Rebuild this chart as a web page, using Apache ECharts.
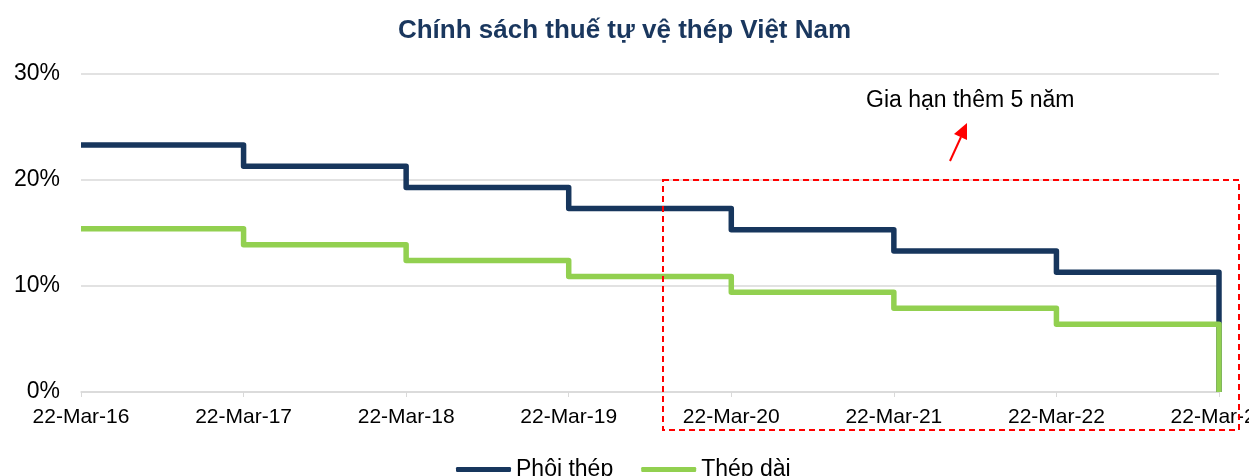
<!DOCTYPE html>
<html>
<head>
<meta charset="utf-8">
<script src="https://cdn.jsdelivr.net/npm/echarts@6/dist/echarts.min.js"></script>
<style>
	html, body { margin: 0; padding: 0; background: #fff; }
	#main { width: 1249px; height: 476px; }
</style>
</head>
<body>
<div id="main"></div>
<script>
	// 年份（22-Mar-yy）
	var years = [2016, 2017, 2018, 2019, 2020, 2021, 2022, 2023];
	// Phôi thép (%)
	var phoiThep = [23.3, 21.3, 19.3, 17.3, 15.3, 13.3, 11.3, 0];
	// Thép dài (%)
	var thepDai = [15.4, 13.9, 12.4, 10.9, 9.4, 7.9, 6.4, 0];
	var yTicks = [0, 10, 20, 30];

	var FONT = '"Liberation Sans", Arial, sans-serif';

	function toPairs(xs, ys) {
		var arr = [];
		for (var i = 0; i < xs.length; i++) {
			arr.push([xs[i], ys[i]]);
		}
		return arr;
	}

	var myChart = echarts.init(document.getElementById('main'));
	var option = {
		animation : false,
		backgroundColor : '#fff',
		title : {
			text : 'Chính sách thuế tự vệ thép Việt Nam',
			left : 'center',
			top : 13,
			textStyle : {
				fontFamily : FONT,
				fontSize : 26,
				fontWeight : 'bold',
				color : '#1A375E'
			}
		},
		legend : {
			top : 453,
			left : 451,
			itemWidth : 55,
			itemHeight : 5,
			itemGap : 28,
			icon : 'roundRect',
			textStyle : {
				fontFamily : FONT,
				fontSize : 23,
				color : '#000',
				padding : [ 0, 0, 0, 0 ]
			},
			data : [ 'Phôi thép', 'Thép dài' ]
		},
		grid : {
			left : 81,
			right : 30,
			top : 74,
			bottom : 84,
			outerBoundsMode : 'none',
			containLabel : false
		},
		xAxis : {
			type : 'value',
			min : years[0],
			max : years[years.length - 1],
			interval : 1,
			splitLine : { show : false },
			axisLine : { lineStyle : { color : '#d9d9d9', width : 1.5 } },
			axisTick : { show : true, length : 5, lineStyle : { color : '#d9d9d9' } },
			axisLabel : {
				fontFamily : FONT,
				fontSize : 21,
				color : '#000',
				margin : 15,
				formatter : function(v) {
					return '22-Mar-' + String(v).slice(2);
				}
			}
		},
		yAxis : {
			type : 'value',
			min : yTicks[0],
			max : yTicks[yTicks.length - 1],
			interval : 10,
			axisLine : { show : false },
			axisTick : { show : false },
			splitLine : { lineStyle : { color : '#d9d9d9', width : 1.5 } },
			axisLabel : {
				fontFamily : FONT,
				fontSize : 23,
				color : '#000',
				margin : 21,
				formatter : '{value}%'
			}
		},
		series : [ {
			name : 'Phôi thép',
			type : 'line',
			step : 'end',
			symbol : 'none',
			color : '#17365D',
			lineStyle : { width : 5.5, color : '#17365D', join : 'round' },
			data : toPairs(years, phoiThep)
		}, {
			name : 'Thép dài',
			type : 'line',
			step : 'end',
			symbol : 'none',
			color : '#92D050',
			lineStyle : { width : 5.5, color : '#92D050', join : 'round' },
			data : toPairs(years, thepDai)
		} ],
		graphic : [ {
			type : 'rect',
			shape : { x : 663, y : 180, width : 576, height : 250 },
			style : { fill : null, stroke : '#FF0000', lineWidth : 2, lineDash : [ 6, 4 ] },
			z : 10
		}, {
			type : 'text',
			left : 866,
			top : 89,
			style : {
				text : 'Gia hạn thêm 5 năm',
				font : '23px ' + FONT,
				fill : '#000'
			}
		}, {
			type : 'line',
			shape : { x1 : 950, y1 : 161, x2 : 961, y2 : 137 },
			style : { stroke : '#FF0000', lineWidth : 2 }
		}, {
			type : 'polygon',
			shape : { points : [ [ 967, 123 ], [ 954, 134 ], [ 967, 140 ] ] },
			style : { fill : '#FF0000' }
		} ]
	};
	myChart.setOption(option, true);
</script>
</body>
</html>
